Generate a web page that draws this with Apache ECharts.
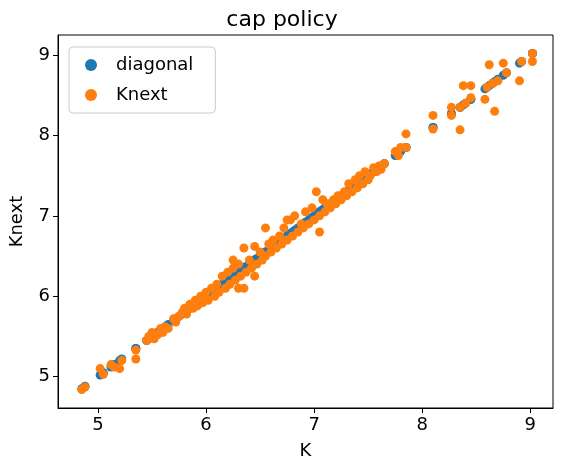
<!DOCTYPE html>
<html>
<head>
<meta charset="utf-8">
<script src="https://cdn.jsdelivr.net/npm/echarts@6/dist/echarts.min.js"></script>
<style>html,body{margin:0;padding:0;background:#fff}#chart{width:564px;height:472px}</style>
</head>
<body>
<div id="chart"></div>
<script>
var K = [4.85,4.88,5.02,5.05,5.12,5.15,5.2,5.22,5.35,5.35,5.45,5.47,5.5,5.52,5.55,5.58,5.6,5.62,5.65,5.7,5.72,5.75,5.78,5.8,5.82,5.85,5.88,5.9,5.92,5.95,5.97,6.0,6.02,6.05,6.08,6.1,6.12,6.15,6.18,6.2,6.22,6.25,6.27,6.3,6.3,6.32,6.35,6.37,6.4,6.42,6.45,6.47,6.5,6.52,6.55,6.58,6.6,6.62,6.65,6.68,6.7,6.72,6.75,6.78,6.8,6.82,6.85,6.88,6.9,6.92,6.95,6.98,7.0,7.02,7.05,7.08,7.1,7.12,7.15,7.18,7.2,7.22,7.25,7.28,7.3,7.32,7.35,7.38,7.4,7.42,7.45,7.47,7.5,7.52,7.55,7.58,7.6,7.62,7.65,7.75,7.78,7.8,7.85,7.85,8.1,8.1,8.27,8.27,8.35,8.35,8.38,8.4,8.45,8.45,8.58,8.6,8.62,8.65,8.67,8.7,8.75,8.78,8.9,8.92,9.02,9.02,6.35,6.55,6.75,7.05,6.25,6.45];
var Knext = [4.84,4.87,5.1,5.03,5.15,5.12,5.1,5.2,5.22,5.33,5.45,5.5,5.55,5.47,5.52,5.6,5.55,5.62,5.6,5.72,5.68,5.75,5.8,5.85,5.78,5.9,5.85,5.95,5.88,6.0,5.92,6.05,5.95,6.1,6.0,6.15,6.05,6.25,6.1,6.3,6.15,6.35,6.2,6.4,6.1,6.25,6.6,6.3,6.45,6.35,6.62,6.4,6.55,6.45,6.5,6.65,6.55,6.7,6.6,6.75,6.65,6.85,6.7,6.95,6.75,7.0,6.8,6.9,6.85,7.05,6.9,7.1,6.95,7.3,7.0,7.2,7.05,7.15,7.1,7.2,7.15,7.25,7.2,7.3,7.25,7.4,7.3,7.45,7.35,7.5,7.4,7.55,7.45,7.5,7.6,7.55,7.62,7.58,7.65,7.8,7.75,7.85,8.02,7.85,8.25,8.08,8.35,8.25,8.07,8.35,8.62,8.4,8.62,8.47,8.45,8.6,8.88,8.65,8.3,8.68,8.9,8.78,8.68,8.92,8.92,9.02,6.1,6.85,6.95,6.8,6.45,6.25];
var xTicks = [5, 6, 7, 8, 9];
var yTicks = [5, 6, 7, 8, 9];

var chart = echarts.init(document.getElementById("chart"));
var font = "DejaVu Sans";
var axisCommon = {
    nameLocation: "middle",
    nameTextStyle: { fontSize: 18, color: "#000", fontFamily: font },
    axisLine: { onZero: false, lineStyle: { color: "#000" } },
    axisTick: { length: 5, lineStyle: { color: "#000" } },
    axisLabel: { fontSize: 18, color: "#000", fontFamily: font },
    splitLine: { show: false }
};
chart.setOption({
    animation: false,
    title: { text: "cap policy", left: "center", top: 4,
        textStyle: { fontSize: 22, fontWeight: "normal", color: "#000", fontFamily: font } },
    grid: { left: 58, right: 11, top: 35, bottom: 64, show: true, borderColor: "#000", borderWidth: 1 },
    legend: {
        left: 69, top: 47, orient: "vertical", itemGap: 12,
        padding: [9, 22, 9, 16], borderColor: "#ccc", borderWidth: 1, borderRadius: 4,
        textStyle: { fontSize: 18, color: "#000", fontFamily: font, padding: [0, 0, 0, 14] },
        itemWidth: 12, itemHeight: 12,
        data: ["diagonal", "Knext"]
    },
    xAxis: Object.assign({}, axisCommon, {
        type: "value", name: "K", nameGap: 34, min: 4.63, max: 9.21,
        axisLabel: Object.assign({}, axisCommon.axisLabel, {
            customValues: xTicks, formatter: function (v) { return Math.round(v); } }),
        axisTick: Object.assign({}, axisCommon.axisTick, { customValues: xTicks })
    }),
    yAxis: Object.assign({}, axisCommon, {
        type: "value", name: "Knext", nameGap: 32, min: 4.61, max: 9.25,
        axisLabel: Object.assign({}, axisCommon.axisLabel, {
            customValues: yTicks, formatter: function (v) { return Math.round(v); } }),
        axisTick: Object.assign({}, axisCommon.axisTick, { customValues: yTicks })
    }),
    series: [
        { name: "diagonal", type: "scatter", symbolSize: 9, itemStyle: { color: "#1f77b4", opacity: 1 },
          data: K.map(function (k) { return [k, k]; }) },
        { name: "Knext", type: "scatter", symbolSize: 9, itemStyle: { color: "#ff7f0e", opacity: 1 },
          data: K.map(function (k, i) { return [k, Knext[i]]; }) }
    ]
});
</script>
</body>
</html>
